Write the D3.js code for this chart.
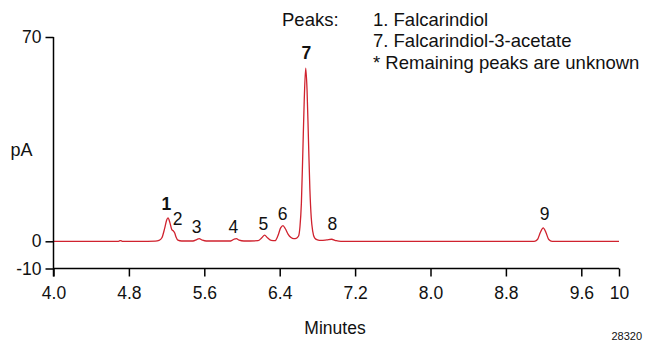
<!DOCTYPE html>
<html><head><meta charset="utf-8">
<script src="https://cdn.jsdelivr.net/npm/d3@7"></script>
<style>
html,body{margin:0;padding:0;background:#fff;}
text{font-family:"Liberation Sans",Arial,Helvetica,sans-serif;fill:#111;}
</style></head>
<body><div id="chart"></div>
<script>
// ---- data ----
const xTicks = [4.0, 4.8, 5.6, 6.4, 7.2, 8.0, 8.8, 9.6, 10];
const xTickLabels = ["4.0", "4.8", "5.6", "6.4", "7.2", "8.0", "8.8", "9.6", "10"];
const yTicks = [70, 0, -10];
const yTickLabels = ["70", "0", "-10"];

const traceTime = [4.00, 4.40, 4.69, 4.71, 4.73, 5.00, 5.08, 5.12, 5.15, 5.18, 5.20, 5.215, 5.235, 5.255, 5.27, 5.285, 5.30, 5.32, 5.36,
  5.48, 5.52, 5.545, 5.58, 5.62, 5.88, 5.915, 5.94, 5.97, 6.02, 6.17, 6.21, 6.24, 6.27, 6.31, 6.35, 6.38, 6.41, 6.435, 6.46, 6.49, 6.52, 6.55, 6.575,
  6.60, 6.615, 6.63, 6.645, 6.66, 6.676, 6.69, 6.705, 6.72, 6.735, 6.75, 6.77, 6.80, 6.84, 6.90, 6.95, 7.00, 7.05,
  7.60, 8.00, 8.60, 9.10, 9.135, 9.165, 9.196, 9.225, 9.255, 9.29, 9.60, 10.0];
const traceSignal = [0, 0, 0, 0.25, 0, 0, 0.05, 0.3, 1.2, 4.5, 7.2, 8.0, 6.4, 4.0, 3.6, 2.9, 1.5, 0.4, 0.1,
  0.1, 0.6, 0.9, 0.4, 0.1, 0.1, 0.7, 0.9, 0.4, 0.1, 0.2, 1.2, 2.1, 1.2, 0.3, 0.2, 1.8, 4.6, 5.4, 4.3, 2.4, 1.3, 0.9, 1.0,
  1.8, 5.0, 13, 30, 48, 59.3, 52, 35, 18, 8, 3.5, 1.2, 0.5, 0.3, 0.5, 0.7, 0.2, 0,
  0, 0, 0, 0, 0.6, 3.0, 4.6, 3.0, 0.6, 0, 0, 0];

const peakNames = ["1", "2", "3", "4", "5", "6", "7", "8", "9"];
const peakLabelTimes = [5.197, 5.317, 5.519, 5.908, 6.227, 6.432, 6.683, 6.96, 9.211];
const peakLabelValues = [10.6, 5.5, 2.7, 2.9, 3.8, 7.2, 62.4, 4.0, 7.2];
const peakBold = [true, false, false, false, false, false, true, false, false];

const legendTitle = "Peaks:";
const legendLines = ["1. Falcarindiol", "7. Falcarindiol-3-acetate", "* Remaining peaks are unknown"];
const xTitle = "Minutes";
const yTitle = "pA";
const figureId = "28320";

// ---- drawing ----
const W = 647, H = 341;
const FONT = '"Liberation Sans",Arial,sans-serif';
const svg = d3.select("#chart").append("svg").attr("width", W).attr("height", H);
svg.append("rect").attr("width", W).attr("height", H).attr("fill", "#fff");

const x = d3.scaleLinear().domain([4, 10]).range([53.5, 619]);
const y = d3.scaleLinear().domain([-10, 0, 70]).range([268.5, 241.3, 37]);

// trace
const line = d3.line().x((d, i) => x(traceTime[i])).y(d => y(d)).curve(d3.curveMonotoneX);
svg.append("path").datum(traceSignal).attr("d", line)
  .attr("fill", "none").attr("stroke", "#d0222e").attr("stroke-width", 1.3);

// x axis
const xAxis = d3.axisBottom(x).tickValues(xTicks).tickFormat((d, i) => xTickLabels[i]).tickSize(8).tickSizeOuter(0).tickPadding(10);
const gx = svg.append("g").attr("transform", `translate(0,${y(-10)})`).call(xAxis);
gx.selectAll("path,line").attr("stroke", "#000").attr("stroke-width", 1.5);
gx.selectAll("text").attr("font-size", 17.5).attr("fill", "#111").style("font-family", FONT);
gx.select(".domain").attr("d", `M${x(4)},0H${x(10)}`);

// y axis
const yAxis = d3.axisLeft(y).tickValues(yTicks).tickFormat((d, i) => yTickLabels[i]).tickSize(8).tickSizeOuter(0).tickPadding(4);
const gy = svg.append("g").attr("transform", `translate(${x(4)},0)`).call(yAxis);
gy.selectAll("path,line").attr("stroke", "#000").attr("stroke-width", 1.5);
gy.selectAll("text").attr("font-size", 17.5).attr("fill", "#111").style("font-family", FONT);
gy.select(".domain").attr("d", `M0,${y(70)}V${y(-10) + 8}`);

// axis titles
svg.append("text").attr("x", 21.5).attr("y", 156).attr("text-anchor", "middle")
  .attr("font-size", 18).text(yTitle);
svg.append("text").attr("x", 335).attr("y", 334).attr("text-anchor", "middle")
  .attr("font-size", 17.5).text(xTitle);
svg.append("text").attr("x", 642).attr("y", 340).attr("text-anchor", "end")
  .attr("font-size", 11).text(figureId);

// peak labels
svg.selectAll("text.peak").data(peakNames).join("text").attr("class", "peak")
  .attr("x", (d, i) => x(peakLabelTimes[i])).attr("y", (d, i) => y(peakLabelValues[i]))
  .attr("text-anchor", "middle").attr("font-size", 17.5)
  .attr("font-weight", (d, i) => peakBold[i] ? "bold" : "normal").text(d => d);

// legend
svg.append("text").attr("x", 282).attr("y", 25.5).attr("font-size", 18.5).text(legendTitle);
svg.selectAll("text.leg").data(legendLines).join("text").attr("class", "leg")
  .attr("x", 373).attr("y", (d, i) => 25.5 + i * 21.7).attr("font-size", 18.5).text(d => d);
</script></body></html>
